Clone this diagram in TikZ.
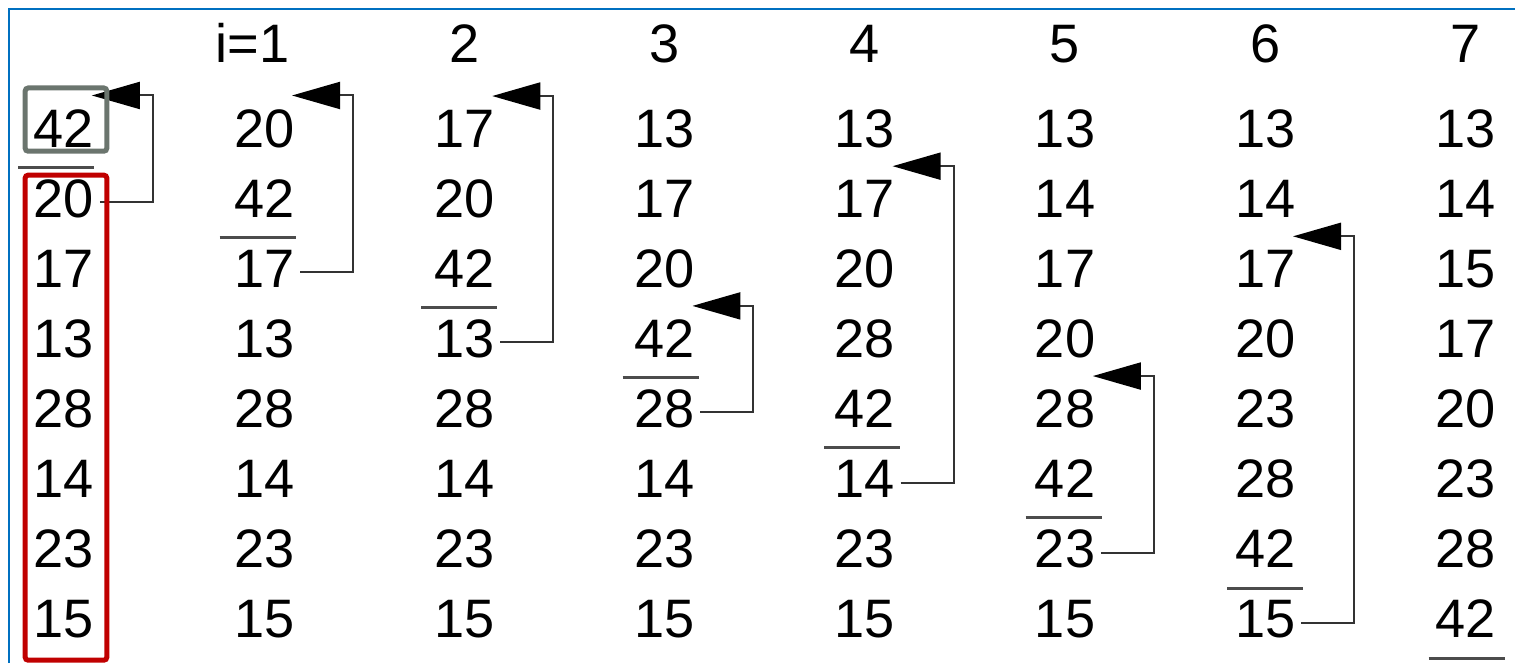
\documentclass[tikz,border=0pt]{standalone}
\usepackage{fontspec}
\setmainfont{Liberation Sans}
\usepackage{xcolor}
\usepackage{tikz}
\usetikzlibrary{arrows.meta}

\definecolor{framecol}{HTML}{0070C0}
\definecolor{boxgray}{HTML}{6B756E}
\definecolor{boxred}{HTML}{C00000}

\begin{document}
\begin{tikzpicture}[
  x=0.01cm, y=-0.01cm,
  num/.style={font=\fontsize{15.4}{18}\selectfont, inner xsep=0.05cm,
              inner ysep=0.13cm, anchor=base},
  hdr/.style={font=\fontsize{15.4}{18}\selectfont, inner sep=0pt, anchor=base},
  arr/.style={-{Triangle[length=0.48cm,width=0.27cm,color=black]},
              line width=0.02cm, draw=black!80, shorten >=-0.08cm},
  bar/.style={line width=0.03cm, draw=black!70},
  hibox/.style={line width=0.05cm, rounded corners=0.03cm}
]
\useasboundingbox (0,0) rectangle (1515,663);
\draw[framecol, line width=0.02cm] (9,663) -- (9,9) -- (1515,9);

% pass headers
\node[hdr, anchor=base east] (h-1) at (290,62) {i=1};
\foreach \c in {2,...,7}
  \node[hdr] (h-\c) at ({64+200.2*\c},62) {\c};

% list after each pass
\foreach \c/\vals in {0/{42,20,17,13,28,14,23,15},
                      1/{20,42,17,13,28,14,23,15},
                      2/{17,20,42,13,28,14,23,15},
                      3/{13,17,20,42,28,14,23,15},
                      4/{13,17,20,28,42,14,23,15},
                      5/{13,14,17,20,28,42,23,15},
                      6/{13,14,17,20,23,28,42,15},
                      7/{13,14,15,17,20,23,28,42}}
  \foreach \v [count=\r] in \vals
    \node[num] (n-\c-\r) at ({64+200.2*\c},{147+70.14*(\r-1)}) {\v};

% sorted part ends here
\foreach \c in {0,...,7} {
  \pgfmathtruncatemacro\r{\c+1}
  \pgfmathsetmacro\bl{-10+1.3*\c}
  \draw[bar] ([shift={(\bl,6.5)}]n-\c-\r.south west) -- ++(76,0);
}

% insertions
\foreach \c/\t in {0/1,1/1,2/1,3/4,4/2,5/5,6/3} {
  \pgfmathtruncatemacro\s{\c+2}
  \draw[arr] ([yshift=-0.035cm]n-\c-\s.east) -- ++(53,0) |- (n-\c-\t.north east);
}

\draw[hibox, boxgray] ([shift={(-3,-7.5)}]n-0-1.north west)
  rectangle ([shift={(7,-9.5)}]n-0-1.south east);
\draw[hibox, boxred] ([shift={(-3,9.5)}]n-0-2.north west)
  rectangle ([shift={(7,8)}]n-0-8.south east);
\end{tikzpicture}
\end{document}
